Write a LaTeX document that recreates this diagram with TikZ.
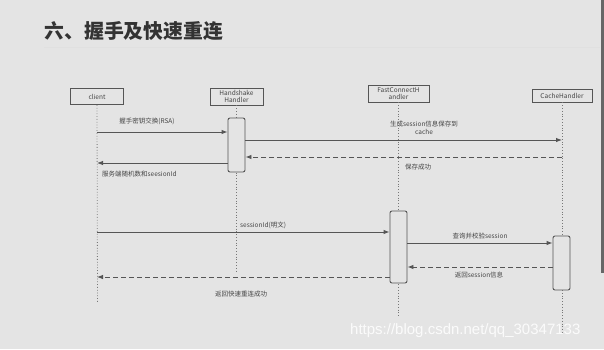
\documentclass[tikz,border=0pt]{standalone}
\usepackage{fontspec}
\setmainfont{Noto Sans CJK SC}
\newfontfamily\wmfont{Liberation Sans}
\usetikzlibrary{arrows.meta}
\definecolor{bg}{HTML}{E4E4E4}
\definecolor{ln}{HTML}{555555}
\definecolor{tx}{HTML}{444444}
\tikzset{
  obj/.style={draw=ln, line width=0.9pt, fill=bg, inner sep=0pt, align=center, font=\fontsize{6.5}{7}\selectfont, text=tx},
  act/.style={draw=ln, line width=0.9pt, fill=bg, rounded corners=2pt, minimum width=17pt, inner sep=0pt},
  life/.style={draw=ln!80, line width=0.8pt, dotted},
  msg/.style={draw=ln, line width=0.9pt, -{Latex[length=6pt,width=4.5pt]}},
  ret/.style={msg, dashed, dash pattern=on 5pt off 3pt},
  lbl/.style={font=\fontsize{6.5}{7.5}\selectfont, text=tx, inner sep=0pt, align=center}
}
\begin{document}
\begin{tikzpicture}[x=1pt,y=-1pt]
\fill[bg] (0,0) rectangle (604,349);
\useasboundingbox (0,0) rectangle (604,349);
\fill[ln!90] (601,0) rectangle (604,273);
\node[anchor=west, font=\fontsize{19.8}{22}\selectfont\bfseries, text=black!80, inner sep=0pt] (title) at (44.5,31) {六、握手及快速重连};
\draw[black!12, line width=0.8pt] (44,47) -- (600,47);

% objects
\node[obj, minimum width=53pt, minimum height=16pt] (client) at (97,96.5) {client};
\node[obj, minimum width=53pt, minimum height=17pt] (hs) at (236.5,96.5) {Handshake\\Handler};
\node[obj, minimum width=61pt, minimum height=17pt] (fc) at (398.5,93.5) {FastConnectH\\andler};
\node[obj, minimum width=60pt, minimum height=13pt] (ch) at (562,95.5) {CacheHandler};

% lifelines
\coordinate (clientE) at (97.5,302);
\coordinate (hsE) at (236.5,272);
\coordinate (fcE) at (398.5,317);
\coordinate (chE) at (562,333);
\draw[life] (client.south) -- (clientE);
\draw[life] (hs.south) -- (hsE);
\draw[life] (fc.south) -- (fcE);
\draw[life] (ch.south) -- (chE);

% activations
\node[act, minimum height=54pt] (hsact) at (236.5,145) {};
\node[act, minimum height=72pt] (fcact) at (398.5,247) {};
\node[act, minimum height=54pt] (chact) at (561.5,263) {};

% messages
\draw[msg] (client.south |- 0,132) -- (hsact.west |- 0,132);
\node[lbl] (l1) at (147,121) {握手密钥交换(RSA)};

\draw[msg] (hsact.east |- 0,140) -- (ch.south |- 0,140);
\node[lbl] (l2) at (424,128) {生成session信息保存到\\cache};

\draw[ret] (ch.south |- 0,157) -- (hsact.east |- 0,157);
\node[lbl] (l3) at (418,167) {保存成功};

\draw[msg] (hsact.west |- 0,163) -- (client.south |- 0,163);
\node[lbl, anchor=west] (l4) at (102,174) {服务端随机数和seesionId};

\draw[msg] (client.south |- 0,232) -- (fcact.west |- 0,232);
\node[lbl, anchor=west] (l5) at (240,225) {sessionId(明文)};

\draw[msg] (fcact.east |- 0,243) -- (chact.west |- 0,243);
\node[lbl] (l6) at (480,236) {查询并校验session};

\draw[ret] (chact.west |- 0,267) -- (fcact.east |- 0,267);
\node[lbl] (l7) at (479,275) {返回session信息};

\draw[ret] (fcact.west |- 0,277) -- (client.south |- 0,277);
\node[lbl] (l8) at (241,294) {返回快速重连成功};

% watermark
\node[anchor=west, font=\wmfont\fontsize{15}{16}\selectfont, text=white, opacity=0.85, inner sep=0pt] (wm) at (350,331) {https://blog.csdn.net/qq\_30347133};
\end{tikzpicture}
\end{document}
